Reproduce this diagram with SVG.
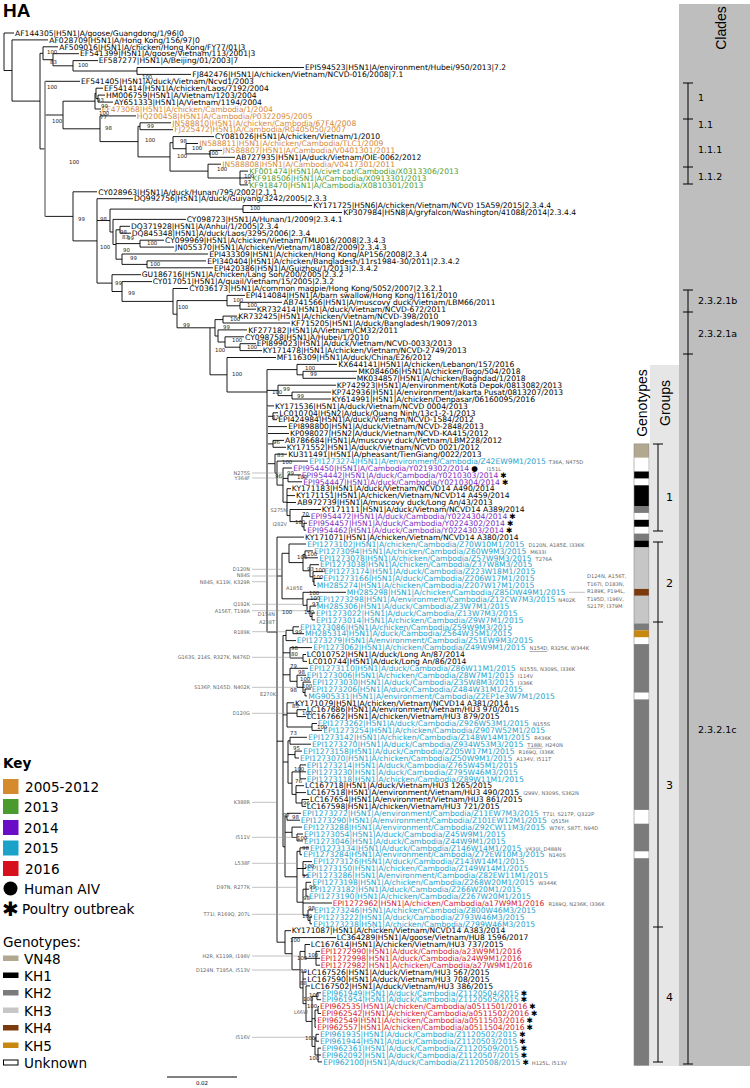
<svg xmlns="http://www.w3.org/2000/svg" width="750" height="1088" viewBox="0 0 750 1088">
<style>
text{font-family:"DejaVu Sans",Verdana,sans-serif}
.lf{font-size:7.6px;fill:#000}
.o{fill:#D4893A}.g{fill:#4E9C35}.p{fill:#7A2DBE}.c{fill:#27A3CC}.r{fill:#D2232E}
.a{fill:#000}
.mu{font-size:5.2px;fill:#666}
.bs{font-size:5.4px;fill:#222}
.ml{font-size:5px;fill:#666;text-anchor:end}
.ms{font-size:5.2px;fill:#666}
.tr{fill:none;stroke:#000;stroke-width:0.9}
.tg{fill:none;stroke:#8a8a8a;stroke-width:2}
.ld{fill:none;stroke:#999;stroke-width:0.6}
.lg{font-size:13.6px;fill:#000}
.hd{font-family:"Liberation Sans",Arial,sans-serif;font-size:14px;text-anchor:middle}
.cl{font-size:9.5px;fill:#000}
.gn{font-size:11px;fill:#000}
.u{text-decoration:underline}
</style>
<g id="title"><text x="3" y="17" style="font-family:'Liberation Sans',Arial,sans-serif;font-size:19px;font-weight:bold">HA</text></g>
<g id="connectors">
<path class="tr" d="M4 33V70.5M4 33H14M4 70.5H12M12 39.9V101.1M12 39.9H48M12 101.1H40M40 53.3V148.9M40 53.3H43M40 148.9H45M43 46.8V59.7M43 46.8H58M43 59.7H53M53 53.7V65.8M53 53.7H79M53 65.8H73M73 60.6V71M73 60.6H98M73 71H137M137 67.5V74.4M137 67.5H304M137 74.4H191M45 81.3H80M45 115H63M45 216.4H73M63 101.2V128.8M63 101.2H95M63 128.8H100M95 93.4V109M95 93.4H96M95 109H101M96 88.2V98.6M96 88.2H103M96 98.6H98M98 95.1V102.1M98 95.1H105M98 102.1H113M100 115.9V141.6M100 115.9H136M100 141.6H138M138 126.3V156.9M138 126.3H140M138 156.9H170M140 122.8V129.7M140 122.8H171M140 129.7H173M170 142.7V171.1M170 142.7H173M170 171.1H208M173 136.6V148.7M173 136.6H214M173 148.7H186M186 143.5V153.9M186 143.5H198M186 153.9H210M210 150.4V157.3M210 150.4H222M210 157.3H235M208 164.2V178M208 164.2H221M208 178H240M240 171.1V184.9M240 171.1H248M240 178H251M240 184.9H248M73 191.8V240.9M73 191.8H97M73 240.9H97M97 198.7V283.1M97 198.7H133M97 220.5H110M97 283.1H112M110 209.1V232M110 209.1H243M110 232H113M243 205.6V212.5M243 205.6H312M243 212.5H342M113 219.4V244.5M113 219.4H186M113 244.5H116M116 229.8V259.2M116 229.8H120M116 243.6H140M116 259.2H122M120 226.3V233.2M120 226.3H130M120 233.2H131M140 240.2V247.1M140 240.2H164M140 247.1H174M122 254V264.4M122 254H208M122 264.4H147M147 260.9V267.8M147 260.9H206M147 267.8H213M112 274.7V291.5M112 274.7H141M112 291.5H122M122 281.6V301.4M122 281.6H152M122 301.4H173M173 288.5V314.2M173 288.5H188M173 314.2H177M177 300.6V327.8M177 300.6H227M177 327.8H210M227 295.4V305.8M227 295.4H245M227 305.8H240M240 302.3V309.2M240 302.3H282M240 309.2H256M210 327.8V374.8M210 327.8H215M210 374.8H227M215 319.6V336M215 319.6H223M215 336H218M223 316.1V323M223 316.1H237M223 323H290M218 329.9V342M218 329.9H247M218 342H225M225 336.8V347.2M225 336.8H244M225 347.2H240M240 343.7V350.6M240 343.7H256M240 350.6H262M227 357.5V392M227 357.5H276M227 392H267M267 369.6V405.9M267 369.6H297M267 390.4H278M267 405.9H274M267 416.3H273M267 426.6H287M267 433.5H289M267 443.9H273M267 463.7H275M267 632H277M297 364.4V374.8M297 364.4H337M297 374.8H303M303 371.3V378.3M303 371.3H357M303 378.3H356M278 385.2V395.6M278 385.2H336M278 395.6H292M292 392.1V399M292 392.1H331M292 399H331M273 412.8V419.7M273 412.8H278M273 419.7H277M273 440.4V447.3M273 440.4H284M273 447.3H286M275 454.2V473.1M275 454.2H287M275 473.1H277M277 461.1V485.1M277 461.1H308M277 485.1H283M283 468V502.2M283 468H292M283 478.4H288M283 502.2H287M288 474.9V481.8M288 474.9H301M288 481.8H302M287 488.7V515.6M287 488.7H291M287 495.6H295M287 502.5H296M287 515.6H290M290 509.5V521.6M290 509.5H321M290 521.6H302M302 516.4V526.8M302 516.4H310M302 526.8H304M304 523.3V530.2M304 523.3H307M304 530.2H306M277 537.1V942.2M277 537.1H304M277 576H282M277 741.2H283M277 942.2H285"/>
<path class="tr" d="M282 553.3V598.8M282 553.3H289M282 598.8H303M289 544V562.6M289 544H306M289 562.6H303M303 554.4V570.8M303 554.4H305M303 570.8H310M305 550.9V557.8M305 550.9H313M305 557.8H318M310 564.7V576.8M310 564.7H319M310 576.8H313M313 571.6V582M313 571.6H323M313 582H314M314 578.5V585.4M314 578.5H322M314 585.4H316M303 592.3V605.3M303 592.3H346M303 605.3H307M307 599.2V611.3M307 599.2H317M307 611.3H310M310 606.1V616.5M310 606.1H316M310 616.5H312M312 613V619.9M312 613H315M312 619.9H315M283 635.5V846.8M283 635.5H286M283 652.8H290M283 674.8H290M283 714.9H287M283 762H288M283 846.8H285M286 630.3V640.6M286 630.3H293M286 640.6H296M293 626.8V633.7M293 626.8H299M293 633.7H304M290 647.6V658M290 647.6H312M290 658H303M303 654.5V661.4M303 654.5H306M303 661.4H307M290 668.3V681.3M290 668.3H308M290 681.3H297M297 675.2V687.3M297 675.2H306M297 687.3H303M303 682.1V692.5M303 682.1H311M303 692.5H305M305 689V695.9M305 689H311M305 695.9H307M287 702.8V727M287 702.8H294M287 713.2H297M287 727H312M297 709.7V716.6M297 709.7H306M297 716.6H306M312 723.5V730.4M312 723.5H317M312 730.4H322M288 740.8V783.2M288 740.8H290M288 754.6H295M288 783.2H292M290 737.3V744.2M290 737.3H307M290 744.2H311M295 751.1V758M295 751.1H302M295 758H299M292 771.9V794.4M292 771.9H300M292 794.4H296M300 764.9V778.8M300 764.9H306M300 771.8H306M300 778.8H306M296 785.7V803M296 785.7H304M296 792.6H306M296 803H302M302 799.5V806.4M302 799.5H309M302 806.4H306M285 816.8V876.8M285 816.8H287M285 832.3H292M285 876.8H297M287 813.3V820.2M287 813.3H301M287 820.2H300M292 827.1V837.5M292 827.1H302M292 837.5H297M297 834V840.9M297 834H303M297 840.9H303M297 851.3V902.2M297 851.3H300M297 868.5H303M297 902.2H303M300 847.8V854.7M300 847.8H309M300 854.7H302M303 861.6V875.4M303 861.6H312M303 868.5H306M303 875.4H306M303 889.2V915.2M303 889.2H306M303 903H332M303 915.2H308M306 882.3V896.1M306 882.3H311M306 889.2H309M306 896.1H308M308 910V920.4M308 910H313M308 920.4H310M310 916.9V923.8M310 916.9H312M310 923.8H312M285 930.7V953.7M285 930.7H291M285 953.7H292M292 937.6V969.7M292 937.6H336M292 969.7H300M300 951.4V987.9M300 951.4H305M300 987.9H303M305 944.5V958.3M305 944.5H310M305 958.3H316M316 951.4V965.2M316 951.4H320M316 958.3H320M316 965.2H320M303 972.1V1003.7M303 972.1H306M303 979H306M303 1003.7H306M306 985.9V1021.4M306 985.9H310M306 1021.4H312M312 996.3V1046.4M312 996.3H317M312 1018.7H315M312 1046.4H315M317 992.8V999.7M317 992.8H321M317 999.7H321M315 1010.1V1027.3M315 1010.1H318M315 1020.4H316M315 1027.3H316M318 1006.6V1013.5M318 1006.6H319M318 1013.5H321M315 1037.8V1055M315 1037.8H316M315 1055H318M316 1034.3V1041.2M316 1034.3H319M316 1041.2H319M318 1048.1V1061.9M318 1048.1H321M318 1055H321M318 1061.9H322"/>
<path class="tg" d="M267 405.9V632"/>
<path fill="none" stroke="#8a8a8a" stroke-width="1.6" d="M45 81.3V216.4"/>
<path class="ld" d="M252 473H282M252 478H282M252 569.3H282M252 576H282M252 581.7H267M252 604.3H303M252 610.7H307M252 631.7H286M252 657.3H303M252 687.3H297M252 713.3H287M252 802.3H277M252 837.3H297M252 863.3H297M252 887.3H297M252 914.3H308M252 956H300M252 970H303M252 1037.3H315M569 592.3H585"/>
</g>
<g id="leaves" class="lf">
<g id="n1"><text x="15" y="35.7">AF144305|H5N1|A/goose/Guangdong/1/96|0</text></g>
<g id="n2"><text x="49.3" y="42.6">AF028709|H5N1|A/Hong Kong/156/97|0</text></g>
<g id="n3"><text x="59.3" y="49.5">AF509016|H5N1|A/chicken/Hong Kong/FY77/01|3</text></g>
<g id="n4"><text x="80" y="56.4">EF541399|H5N1|A/goose/Vietnam/113/2001|3</text></g>
<g id="n5"><text x="98.7" y="63.3">EF587277|H5N1|A/Beijing/01/2003|7</text></g>
<g id="n6"><text x="305" y="70.2">EPI594523|H5N1|A/environment/Hubei/950/2013|7.2</text></g>
<g id="n7"><text x="192.3" y="77.1">FJ842476|H5N1|A/chicken/Vietnam/NCVD-016/2008|7.1</text></g>
<g id="n8"><text x="81" y="84">EF541405|H5N1|A/duck/Vietnam/Ncvd1/2003</text></g>
<g id="n9"><text x="104" y="90.9">EF541414|H5N1|A/chicken/Laos/7192/2004</text></g>
<g id="n10"><text x="106" y="97.8">HM006759|H5N1|A/Vietnam/1203/2004</text></g>
<g id="n11"><text x="114.3" y="104.8">AY651333|H5N1|A/Vietnam/1194/2004</text></g>
<g id="n12"><text class="o" x="101.7" y="111.7">EF473068|H5N1|A/chicken/Cambodia/1/2004</text></g>
<g id="n13"><text class="o" x="136.7" y="118.6">HQ200458|H5N1|A/Cambodia/P0322095/2005</text></g>
<g id="n14"><text class="o" x="172.3" y="125.5">JN588810|H5N1|A/chicken/Cambodia/67F4/2008</text></g>
<g id="n15"><text class="o" x="174.3" y="132.4">FJ225472|H5N1|A/Cambodia/R0405050/2007</text></g>
<g id="n16"><text x="215" y="139.3">CY081026|H5N1|A/chicken/Vietnam/1/2010</text></g>
<g id="n17"><text class="o" x="199.3" y="146.2">JN588811|H5N1|A/chicken/Cambodia/TLC1/2009</text></g>
<g id="n18"><text class="o" x="222.7" y="153.1">JN588807|H5N1|A/Cambodia/V0401301/2011</text></g>
<g id="n19"><text x="236" y="160">AB727935|H5N1|A/duck/Vietnam/OIE-0062/2012</text></g>
<g id="n20"><text class="o" x="222.3" y="166.9">JN588808|H5N1|A/Cambodia/V0417301/2011</text></g>
<g id="n21"><text class="g" x="249.3" y="173.8">KF001474|H5N1|A/civet cat/Cambodia/X0313306/2013</text></g>
<g id="n22"><text class="g" x="252.3" y="180.7">KF918506|H5N1|A/Cambodia/X0913301/2013</text></g>
<g id="n23"><text class="g" x="249.3" y="187.6">KF918470|H5N1|A/Cambodia/X0810301/2013</text></g>
<g id="n24"><text x="98.3" y="194.5">CY028963|H5N1|A/duck/Hunan/795/2002|2.1.1</text></g>
<g id="n25"><text x="134" y="201.4">DQ992756|H5N1|A/duck/Guiyang/3242/2005|2.3.3</text></g>
<g id="n26"><text x="313.3" y="208.3">KY171725|H5N6|A/chicken/Vietnam/NCVD 15A59/2015|2.3.4.4</text></g>
<g id="n27"><text x="343.3" y="215.2">KP307984|H5N8|A/gryfalcon/Washington/41088/2014|2.3.4.4</text></g>
<g id="n28"><text x="186.7" y="222.1">CY098723|H5N1|A/Hunan/1/2009|2.3.4.1</text></g>
<g id="n29"><text x="131" y="229">DQ371928|H5N1|A/Anhui/1/2005|2.3.4</text></g>
<g id="n30"><text x="131.7" y="235.9">DQ845348|H5N1|A/duck/Laos/3295/2006|2.3.4</text></g>
<g id="n31"><text x="165" y="242.9">CY099969|H5N1|A/chicken/Vietnam/TMU016/2008|2.3.4.3</text></g>
<g id="n32"><text x="175" y="249.8">JN055370|H5N1|A/chicken/Vietnam/18082/2009|2.3.4.3</text></g>
<g id="n33"><text x="209.3" y="256.7">EPI433309|H5N1|A/chicken/Hong Kong/AP156/2008|2.3.4</text></g>
<g id="n34"><text x="207.3" y="263.6">EPI340404|H5N1|A/chicken/Bangladesh/11rs1984-30/2011|2.3.4.2</text></g>
<g id="n35"><text x="214" y="270.5">EPI420386|H5N1|A/Guizhou/1/2013|2.3.4.2</text></g>
<g id="n36"><text x="141.7" y="277.4">GU186716|H5N1|A/chicken/Lang Son/200/2005|2.3.2</text></g>
<g id="n37"><text x="152.7" y="284.3">CY017051|H5N1|A/quail/Vietnam/15/2005|2.3.2</text></g>
<g id="n38"><text x="189.3" y="291.2">CY036173|H5N1|A/common magpie/Hong Kong/5052/2007|2.3.2.1</text></g>
<g id="n39"><text x="245.7" y="298.1">EPI414084|H5N1|A/barn swallow/Hong Kong/1161/2010</text></g>
<g id="n40"><text x="283.3" y="305">AB741566|H5N1|A/muscovy duck/Vietnam/LBM66/2011</text></g>
<g id="n41"><text x="256.7" y="311.9">KR732414|H5N1|A/duck/Vietnam/NCVD-672/2011</text></g>
<g id="n42"><text x="238.3" y="318.8">KR732425|H5N1|A/chicken/Vietnam/NCVD-398/2010</text></g>
<g id="n43"><text x="291" y="325.7">KF715205|H5N1|A/duck/Bangladesh/19097/2013</text></g>
<g id="n44"><text x="248.3" y="332.6">KF277182|H5N1|A/Vietnam/CM32/2011</text></g>
<g id="n45"><text x="245" y="339.5">CY098758|H5N1|A/Hubei/1/2010</text></g>
<g id="n46"><text x="256.7" y="346.4">EPI899023|H5N1|A/duck/Vietnam/NCVD-0033/2013</text></g>
<g id="n47"><text x="262.7" y="353.3">KY171478|H5N1|A/chicken/Vietnam/NCVD-2749/2013</text></g>
<g id="n48"><text x="276.7" y="360.2">MF116309|H5N1|A/duck/China/E26/2012</text></g>
<g id="n49"><text x="338.3" y="367.1">KX644141|H5N1|A/chicken/Lebanon/157/2016</text></g>
<g id="n50"><text x="358.3" y="374">MK084606|H5N1|A/chicken/Togo/504/2018</text></g>
<g id="n51"><text x="356.7" y="381">MK034857|H5N1|A/chicken/Baghdad/1/2018</text></g>
<g id="n52"><text x="336.7" y="387.9">KP742923|H5N1|A/environment/Kota Depok/0813082/2013</text></g>
<g id="n53"><text x="331.7" y="394.8">KP742936|H5N1|A/environment/Jakarta Pusat/0813207/2013</text></g>
<g id="n54"><text x="331.7" y="401.7">KY614991|H5N1|A/chicken/Denpasar/06160095/2016</text></g>
<g id="n55"><text x="275" y="408.6">KY171536|H5N1|A/duck/Vietnam/NCVD 0004/2013</text></g>
<g id="n56"><text x="279.3" y="415.5">LC010704|H5N2|A/duck/Quang Ninh/13c1-2-1/2013</text></g>
<g id="n57"><text x="278.3" y="422.4">EPI424984|H5N1|A/duck/Vietnam/NCVD-1584/2012</text></g>
<g id="n58"><text x="288.3" y="429.3">EPI898800|H5N1|A/duck/Vietnam/NCVD-2848/2013</text></g>
<g id="n59"><text x="290" y="436.2">KP098027|H5N2|A/duck/Vietnam/NCVD-KA415/2012</text></g>
<g id="n60"><text x="285" y="443.1">AB786684|H5N1|A/muscovy duck/Vietnam/LBM228/2012</text></g>
<g id="n61"><text x="286.7" y="450">KY171552|H5N1|A/duck/Vietnam/NCVD 0021/2012</text></g>
<g id="n62"><text x="288.3" y="456.9">KU311491|H5N1|A/pheasant/TienGiang/0022/2013</text></g>
<g id="n63"><text class="c" x="309.3" y="463.8">EPI1273274|H5N1|A/environment/Cambodia/Z42EW9M1/2015<tspan class="mu" dx="3">T36A, N475D</tspan></text></g>
<g id="n64"><text class="p" x="293.3" y="470.7">EPI954450|H5N1|A/Cambodia/Y0219302/2014<tspan class="a" dx="2">●</tspan><tspan class="mu" dx="9">I151L</tspan></text></g>
<g id="n65"><text class="p" x="301.7" y="477.6">EPI954442|H5N1|A/duck/Cambodia/Y0210303/2014<tspan class="a" dx="2">✱</tspan></text></g>
<g id="n66"><text class="p" x="303.3" y="484.5">EPI954447|H5N1|A/duck/Cambodia/Y0210304/2014<tspan class="a" dx="2">✱</tspan></text></g>
<g id="n67"><text x="291.7" y="491.4">KY171183|H5N1|A/duck/Vietnam/NCVD14 A490/2014</text></g>
<g id="n68"><text x="296" y="498.3">KY171151|H5N1|A/chicken/Vietnam/NCVD14 A459/2014</text></g>
<g id="n69"><text x="297.3" y="505.2">AB972739|H5N1|A/muscovy duck/Long An/43/2013</text></g>
<g id="n70"><text x="321.7" y="512.2">KY171111|H5N1|A/duck/Vietnam/NCVD14 A389/2014</text></g>
<g id="n71"><text class="p" x="310.7" y="519.1">EPI954472|H5N1|A/duck/Cambodia/Y0224304/2014<tspan class="a" dx="2">✱</tspan></text></g>
<g id="n72"><text class="p" x="308.3" y="526">EPI954457|H5N1|A/duck/Cambodia/Y0224302/2014<tspan class="a" dx="2">✱</tspan></text></g>
<g id="n73"><text class="p" x="307.3" y="532.9">EPI954462|H5N1|A/duck/Cambodia/Y0224303/2014<tspan class="a" dx="2">✱</tspan></text></g>
<g id="n74"><text x="305" y="539.8">KY171071|H5N1|A/chicken/Vietnam/NCVD14 A380/2014</text></g>
<g id="n75"><text class="c" x="307.3" y="546.7">EPI1273102|H5N1|A/chicken/Cambodia/Z70W10M1/2015<tspan class="mu" dx="4">D120N, A185E, I336K</tspan></text></g>
<g id="n76"><text class="c" x="314" y="553.6">EPI1273094|H5N1|A/chicken/Cambodia/Z60W9M3/2015<tspan class="mu" dx="4">M633I</tspan></text></g>
<g id="n77"><text class="c" x="319.3" y="560.5">EPI1273078|H5N1|A/chicken/Cambodia/Z57W9M3/2015<tspan class="mu" dx="4">T276A</tspan></text></g>
<g id="n78"><text class="c" x="320" y="567.4">EPI1273038|H5N1|A/chicken/Cambodia/Z37W8M3/2015</text></g>
<g id="n79"><text class="c" x="324" y="574.3">EPI1273174|H5N1|A/duck/Cambodia/Z223W18M1/2015</text></g>
<g id="n80"><text class="c" x="323.3" y="581.2">EPI1273166|H5N1|A/duck/Cambodia/Z206W17M1/2015</text></g>
<g id="n81"><text class="c" x="316.7" y="588.1">MH285274|H5N1|A/chicken/Cambodia/Z207W17M1/2015</text></g>
<g id="n82"><text class="c" x="346.7" y="595">MH285298|H5N1|A/chicken/Cambodia/Z85DW49M1/2015</text></g>
<g id="n83"><text class="c" x="318.3" y="601.9">EPI1273298|H5N1|A/environment/Cambodia/Z12CW7M3/2015<tspan class="mu" dx="3">N402K</tspan></text></g>
<g id="n84"><text class="c" x="316.7" y="608.8">MH285306|H5N1|A/duck/Cambodia/Z3W7M1/2015</text></g>
<g id="n85"><text class="c" x="316" y="615.7">EPI1273022|H5N1|A/duck/Cambodia/Z13W7M3/2015</text></g>
<g id="n86"><text class="c" x="316" y="622.6">EPI1273014|H5N1|A/chicken/Cambodia/Z9W7M1/2015</text></g>
<g id="n87"><text class="c" x="300" y="629.5">EPI1273086|H5N1|A/chicken/Cambodia/Z59W9M3/2015</text></g>
<g id="n88"><text class="c" x="305" y="636.4">MH285314|H5N1|A/duck/Cambodia/Z564W35M1/2015</text></g>
<g id="n89"><text class="c" x="296.7" y="643.3">EPI1273279|H5N1|A/environment/Cambodia/Z51EW9M3/2015</text></g>
<g id="n90"><text class="c" x="313.3" y="650.3">EPI1273062|H5N1|A/chicken/Cambodia/Z49W9M1/2015<tspan class="mu" dx="4"><tspan class="u">N154D</tspan>, R325K, W344K</tspan></text></g>
<g id="n91"><text x="306.7" y="657.2">LC010752|H5N1|A/duck/Long An/87/2014</text></g>
<g id="n92"><text x="308.3" y="664.1">LC010744|H5N1|A/duck/Long An/86/2014</text></g>
<g id="n93"><text class="c" x="309.3" y="671">EPI1273110|H5N1|A/duck/Cambodia/Z86W11M1/2015<tspan class="mu" dx="4">N155S, N309S, I336K</tspan></text></g>
<g id="n94"><text class="c" x="306.7" y="677.9">EPI1273006|H5N1|A/chicken/Cambodia/Z8W7M1/2015<tspan class="mu" dx="4">I114V</tspan></text></g>
<g id="n95"><text class="c" x="312.3" y="684.8">EPI1273030|H5N1|A/duck/Cambodia/Z35W8M3/2015<tspan class="mu" dx="4">I336K</tspan></text></g>
<g id="n96"><text class="c" x="311.7" y="691.7">EPI1273206|H5N1|A/duck/Cambodia/Z484W31M1/2015</text></g>
<g id="n97"><text class="c" x="308.3" y="698.6">MG905331|H5N1|A/environment/Cambodia/Z2EP1e3W7M1/2015</text></g>
<g id="n98"><text x="295" y="705.5">KY171079|H5N1|A/chicken/Vietnam/NCVD14 A381/2014</text></g>
<g id="n99"><text x="306.7" y="712.4">LC167686|H5N1|A/environment/Vietnam/HU3 970/2015</text></g>
<g id="n100"><text x="306.7" y="719.3">LC167662|H5N1|A/chicken/Vietnam/HU3 879/2015</text></g>
<g id="n101"><text class="c" x="317.7" y="726.2">EPI1273262|H5N1|A/duck/Cambodia/Z926W53M1/2015<tspan class="mu" dx="4">N155S</tspan></text></g>
<g id="n102"><text class="c" x="323.3" y="733.1">EPI1273254|H5N1|A/chicken/Cambodia/Z907W52M1/2015</text></g>
<g id="n103"><text class="c" x="308.3" y="740">EPI1273142|H5N1|A/chicken/Cambodia/Z148W14M1/2015<tspan class="mu" dx="4">R436K</tspan></text></g>
<g id="n104"><text class="c" x="312" y="746.9">EPI1273270|H5N1|A/duck/Cambodia/Z934W53M3/2015<tspan class="mu" dx="4"><tspan class="u">T188I</tspan>, H240N</tspan></text></g>
<g id="n105"><text class="c" x="303.3" y="753.8">EPI1273158|H5N1|A/duck/Cambodia/Z205W17M1/2015<tspan class="mu" dx="4">R169Q, I336K</tspan></text></g>
<g id="n106"><text class="c" x="300" y="760.7">EPI1273070|H5N1|A/chicken/Cambodia/Z50W9M1/2015<tspan class="mu" dx="4">A134V, I511T</tspan></text></g>
<g id="n107"><text class="c" x="306.7" y="767.6">EPI1273214|H5N1|A/duck/Cambodia/Z765W45M1/2015</text></g>
<g id="n108"><text class="c" x="306.7" y="774.5">EPI1273230|H5N1|A/duck/Cambodia/Z795W46M3/2015</text></g>
<g id="n109"><text class="c" x="306.7" y="781.5">EPI1273118|H5N1|A/chicken/Cambodia/Z89W11M1/2015</text></g>
<g id="n110"><text x="305" y="788.4">LC167718|H5N1|A/duck/Vietnam/HU3 1265/2015</text></g>
<g id="n111"><text x="306.7" y="795.3">LC167518|H5N1|A/environment/Vietnam/HU3 490/2015<tspan class="mu" dx="4">I299V, N309S, S362N</tspan></text></g>
<g id="n112"><text x="310" y="802.2">LC167654|H5N1|A/environment/Vietnam/HU3 861/2015</text></g>
<g id="n113"><text x="306.7" y="809.1">LC167598|H5N1|A/chicken/Vietnam/HU3 721/2015</text></g>
<g id="n114"><text class="c" x="302.3" y="816">EPI1273272|H5N1|A/environment/Cambodia/Z11EW7M3/2015<tspan class="mu" dx="4">T71I, S217P, Q322P</tspan></text></g>
<g id="n115"><text class="c" x="300.7" y="822.9">EPI1273290|H5N1|A/environment/Cambodia/Z101EW12M1/2015<tspan class="mu" dx="4">Q515H</tspan></text></g>
<g id="n116"><text class="c" x="303.3" y="829.8">EPI1273288|H5N1|A/environment/Cambodia/Z92CW11M3/2015<tspan class="mu" dx="4">W76Y, S87T, N94D</tspan></text></g>
<g id="n117"><text class="c" x="304" y="836.7">EPI1273054|H5N1|A/duck/Cambodia/Z45W9M1/2015</text></g>
<g id="n118"><text class="c" x="304" y="843.6">EPI1273046|H5N1|A/duck/Cambodia/Z44W9M1/2015</text></g>
<g id="n119"><text class="c" x="310" y="850.5">EPI1273134|H5N1|A/duck/Cambodia/Z146W14M1/2015<tspan class="mu" dx="4">V430I, D488N</tspan></text></g>
<g id="n120"><text class="c" x="303.3" y="857.4">EPI1273284|H5N1|A/environment/Cambodia/Z72EW10M3/2015<tspan class="mu" dx="4">N140S</tspan></text></g>
<g id="n121"><text class="c" x="313.3" y="864.3">EPI1273126|H5N1|A/duck/Cambodia/Z143W14M1/2015</text></g>
<g id="n122"><text class="c" x="306.7" y="871.2">EPI1273150|H5N1|A/chicken/Cambodia/Z149W14M1/2015</text></g>
<g id="n123"><text class="c" x="306.7" y="878.1">EPI1273286|H5N1|A/environment/Cambodia/Z82EW11M1/2015</text></g>
<g id="n124"><text class="c" x="312.3" y="885">EPI1273198|H5N1|A/chicken/Cambodia/Z268W20M1/2015<tspan class="mu" dx="4">W344K</tspan></text></g>
<g id="n125"><text class="c" x="310" y="891.9">EPI1273182|H5N1|A/duck/Cambodia/Z266W20M1/2015</text></g>
<g id="n126"><text class="c" x="309" y="898.8">EPI1273190|H5N1|A/chicken/Cambodia/Z267W20M1/2015</text></g>
<g id="n127"><text class="r" x="332.7" y="905.7">EPI1272962|H5N1|A/chicken/Cambodia/a17W9M1/2016<tspan class="mu" dx="4">R169Q, N236K, I336K</tspan></text></g>
<g id="n128"><text class="c" x="314" y="912.7">EPI1273246|H5N1|A/chicken/Cambodia/Z800W46M3/2015</text></g>
<g id="n129"><text class="c" x="313.3" y="919.6">EPI1273222|H5N1|A/duck/Cambodia/Z793W46M3/2015</text></g>
<g id="n130"><text class="c" x="313.3" y="926.5">EPI1273238|H5N1|A/chicken/Cambodia/Z799W46M3/2015</text></g>
<g id="n131"><text x="291.7" y="933.4">KY171087|H5N1|A/chicken/Vietnam/NCVD14 A383/2014</text></g>
<g id="n132"><text x="336.7" y="940.3">LC364289|H5N1|A/goose/Vietnam/HU8 1596/2017</text></g>
<g id="n133"><text x="310.7" y="947.2">LC167614|H5N1|A/chicken/Vietnam/HU3 737/2015</text></g>
<g id="n134"><text class="r" x="320.7" y="954.1">EPI1272990|H5N1|A/duck/Cambodia/a23W9M1/2016</text></g>
<g id="n135"><text class="r" x="320.7" y="961">EPI1272998|H5N1|A/duck/Cambodia/a24W9M1/2016</text></g>
<g id="n136"><text class="r" x="320.7" y="967.9">EPI1272982|H5N1|A/chicken/Cambodia/a27W9M1/2016</text></g>
<g id="n137"><text x="307.3" y="974.8">LC167526|H5N1|A/duck/Vietnam/HU3 567/2015</text></g>
<g id="n138"><text x="307.3" y="981.7">LC167590|H5N1|A/duck/Vietnam/HU3 708/2015</text></g>
<g id="n139"><text x="310.7" y="988.6">LC167502|H5N1|A/duck/Vietnam/HU3 386/2015</text></g>
<g id="n140"><text class="c" x="321.7" y="995.5">EPI961949|H5N1|A/duck/Cambodia/Z1120504/2015<tspan class="a" dx="2">✱</tspan></text></g>
<g id="n141"><text class="c" x="321.7" y="1002.4">EPI961954|H5N1|A/duck/Cambodia/Z1120505/2015<tspan class="a" dx="2">✱</tspan></text></g>
<g id="n142"><text class="r" x="320" y="1009.3">EPI962535|H5N1|A/chicken/Cambodia/a0511501/2016<tspan class="a" dx="2">✱</tspan></text></g>
<g id="n143"><text class="r" x="321.7" y="1016.2">EPI962542|H5N1|A/chicken/Cambodia/a0511502/2016<tspan class="a" dx="2">✱</tspan></text></g>
<g id="n144"><text class="r" x="317.3" y="1023.1">EPI962549|H5N1|A/chicken/Cambodia/a0511503/2016<tspan class="a" dx="2">✱</tspan></text></g>
<g id="n145"><text class="r" x="317.3" y="1030">EPI962557|H5N1|A/chicken/Cambodia/a0511504/2016<tspan class="a" dx="2">✱</tspan></text></g>
<g id="n146"><text class="c" x="320" y="1037">EPI961935|H5N1|A/duck/Cambodia/Z1120502/2015<tspan class="a" dx="2">✱</tspan></text></g>
<g id="n147"><text class="c" x="320" y="1043.9">EPI961944|H5N1|A/duck/Cambodia/Z1120503/2015<tspan class="a" dx="2">✱</tspan></text></g>
<g id="n148"><text class="c" x="321.7" y="1050.8">EPI962361|H5N1|A/duck/Cambodia/Z1120509/2015<tspan class="a" dx="2">✱</tspan></text></g>
<g id="n149"><text class="c" x="321.7" y="1057.7">EPI962092|H5N1|A/duck/Cambodia/Z1120507/2015<tspan class="a" dx="2">✱</tspan></text></g>
<g id="n150"><text class="c" x="323.3" y="1064.6">EPI962100|H5N1|A/duck/Cambodia/Z1120508/2015<tspan class="a" dx="2">✱</tspan><tspan class="mu" dx="3">H125L, I513V</tspan></text></g>
</g>
<g id="mutation-block" class="ms">
<text x="587" y="578.3">D124N, A156T,</text>
<text x="587" y="585.8">T167I, D183N,</text>
<text x="587" y="593.3">R189K, P194L,</text>
<text x="587" y="600.8">T195D, I196V,</text>
<text x="587" y="608.3">S217P, I379M</text>
</g>
<g id="branch-mutations">
<text class="ml" x="250" y="474.6">N275S</text>
<text class="ml" x="250" y="480.2">Y364F</text>
<text class="ml" x="250" y="570.9">D120N</text>
<text class="ml" x="250" y="577.3">N84S</text>
<text class="ml" x="250" y="583.7">N84S, K119I, K329R</text>
<text class="ml" x="250" y="606.1">Q192K</text>
<text class="ml" x="250" y="612.5">A156T, T198A</text>
<text class="ml" x="250" y="633.5">R189K</text>
<text class="ml" x="250" y="659.1">G163S, 214S, R327K, N476D</text>
<text class="ml" x="250" y="689.1">S136P, N165D, N402K</text>
<text class="ml" x="250" y="715.1">D120G</text>
<text class="ml" x="250" y="804.1">K388R</text>
<text class="ml" x="250" y="839.1">I511V</text>
<text class="ml" x="250" y="865.1">L538F</text>
<text class="ml" x="250" y="889.1">D97N, R277K</text>
<text class="ml" x="250" y="916.1">T71I, R169Q, 207L</text>
<text class="ml" x="250" y="957.8">H2R, K119R, I198V</text>
<text class="ml" x="250" y="971.8">D124N, T195A, I513V</text>
<text class="ml" x="250" y="1039.1">I516V</text>
<text class="ml" x="287" y="512.3">S275N</text>
<text class="ml" x="287" y="525.8">I282V</text>
<text class="ml" x="275" y="616.1">D154N</text>
<text class="ml" x="275" y="623.5">A238T</text>
<text class="ml" x="276" y="695.8">E270K</text>
<text class="ml" x="308" y="1013.5">L66W</text>
<text class="ms" x="286" y="589.8">A185E</text>
</g>
<g id="support" class="bs">
<text x="47" y="54">100</text><text x="50" y="64">83</text><text x="78" y="67">100</text><text x="142" y="78.5">100</text><text x="47" y="89">100</text>
<text x="97" y="102">93</text><text x="101" y="108">99</text><text x="99" y="115">100</text><text x="100" y="119">77</text><text x="52" y="123">100</text>
<text x="69" y="164">100</text><text x="105" y="130">98</text><text x="147" y="128">99</text><text x="145" y="142">100</text><text x="180" y="143">98</text>
<text x="192" y="150">100</text><text x="208" y="155">100</text><text x="177" y="158">100</text><text x="217" y="171">100</text><text x="244" y="178">100</text><text x="244" y="184">97</text>
<text x="78" y="221">99</text><text x="100" y="221">98</text><text x="250" y="210">100</text><text x="120" y="234">98</text><text x="127" y="240">99</text>
<text x="100" y="249">100</text><text x="122" y="239">83</text><text x="147" y="245">100</text><text x="123" y="252">90</text><text x="130" y="260">99</text><text x="150" y="266">100</text>
<text x="115" y="285">99</text><text x="128" y="295">99</text><text x="178" y="309">100</text><text x="233" y="302">100</text><text x="247" y="307">100</text>
<text x="230" y="321">100</text><text x="183" y="327">99</text><text x="223" y="329">99</text><text x="232" y="342">100</text><text x="247" y="349">100</text><text x="215" y="352">100</text>
<text x="232" y="376">100</text><text x="305" y="370">100</text><text x="310" y="376">99</text><text x="272" y="394">100</text><text x="283" y="391">99</text><text x="297" y="398">99</text>
<text x="272" y="419">83</text><text x="273" y="444">96</text><text x="277" y="457">83</text><text x="282" y="464">100</text><text x="275" y="478">96</text><text x="287" y="475">99</text><text x="297" y="479">100</text>
<text x="302" y="516">70</text><text x="295" y="524">100</text><text x="297" y="559">100</text><text x="307" y="556">100</text><text x="307" y="571">93</text><text x="315" y="572">100</text><text x="313" y="579">100</text>
<text x="309" y="595">100</text><text x="310" y="600">100</text><text x="312" y="606">97</text><text x="304" y="614">100</text><text x="282" y="614">100</text>
<text x="295" y="634">99</text><text x="291" y="650">98</text><text x="291" y="656">80</text><text x="290" y="668">79</text><text x="298" y="674">98</text><text x="300" y="681">100</text><text x="290" y="692">98</text><text x="302" y="688">100</text>
<text x="292" y="708">83</text><text x="302" y="715">100</text><text x="317" y="729">100</text><text x="290" y="735">73</text><text x="293" y="750">95</text><text x="294" y="771">100</text><text x="295" y="783">76</text><text x="303" y="805">96</text>
<text x="283" y="817">97</text><text x="292" y="819">98</text><text x="297" y="840">100</text><text x="302" y="850">98</text><text x="304" y="868">100</text><text x="302" y="878">95</text><text x="309" y="889">99</text><text x="303" y="900">98</text><text x="308" y="910">98</text><text x="302" y="918">100</text>
<text x="290" y="942">100</text><text x="297" y="960">100</text><text x="308" y="957">100</text><text x="300" y="973">99</text><text x="300" y="985">88</text><text x="309" y="997">100</text><text x="303" y="1001">100</text><text x="307" y="1008">100</text><text x="305" y="1040">100</text><text x="309" y="1060">100</text>
</g>
<g id="panel">
<rect x="679" y="4" width="71" height="1062" fill="#BEBEBE"/>
<rect x="650" y="365" width="29" height="701" fill="#E6E6E6"/>
<text class="hd" transform="translate(726,28) rotate(-90)">Clades</text>
<text class="hd" transform="translate(670,403) rotate(-90)">Groups</text>
<text class="hd" transform="translate(647,403) rotate(-90)">Genotypes</text>
<path d="M688 83V184M683 83H693M683 119H693M683 167H693M683 184H693M688 290V1064M683 290H693M683 312H693M683 354H693M683 1064H693" stroke="#000" stroke-width="1" fill="none"/>
<text class="cl" x="698" y="100.5">1</text>
<text class="cl" x="698" y="127.5">1.1</text>
<text class="cl" x="698" y="152.5">1.1.1</text>
<text class="cl" x="698" y="179.5">1.1.2</text>
<text class="cl" x="698" y="303.5">2.3.2.1b</text>
<text class="cl" x="698" y="336.5">2.3.2.1a</text>
<text class="cl" x="698" y="732.5">2.3.2.1c</text>
<path d="M658 444V531M653 444H663M653 531H663M658 542V1062M653 542H663M653 622H663M653 927H663M653 1062H663" stroke="#000" stroke-width="1" fill="none"/>
<text class="gn" x="666" y="501">1</text>
<text class="gn" x="666" y="587">2</text>
<text class="gn" x="666" y="789">3</text>
<text class="gn" x="666" y="1001">4</text>
<g id="genotype-bar">
<rect x="634" y="443.9" width="15" height="621.5" fill="#fff"/>
<rect x="634" y="443.9" width="15" height="13.7" fill="#B2A88F"/>
<rect x="634" y="471.5" width="15" height="6.9" fill="#000"/>
<rect x="634" y="485.3" width="15" height="20.7" fill="#000"/>
<rect x="634" y="506" width="15" height="6.9" fill="#7B7B7B"/>
<rect x="634" y="519.8" width="15" height="6.9" fill="#000"/>
<rect x="634" y="533.6" width="15" height="6.9" fill="#7B7B7B"/>
<rect x="634" y="540.5" width="15" height="6.9" fill="#000"/>
<rect x="634" y="547.4" width="15" height="41.5" fill="#C6C6C6"/>
<rect x="634" y="588.9" width="15" height="6.9" fill="#7B3A0C"/>
<rect x="634" y="595.8" width="15" height="27.6" fill="#C6C6C6"/>
<rect x="634" y="623.4" width="15" height="6.9" fill="#7B7B7B"/>
<rect x="634" y="630.3" width="15" height="6.9" fill="#C8870E"/>
<rect x="634" y="644.1" width="15" height="48.4" fill="#7B7B7B"/>
<rect x="634" y="699.4" width="15" height="110.5" fill="#7B7B7B"/>
<rect x="634" y="823.7" width="15" height="27.6" fill="#7B7B7B"/>
<rect x="634" y="858.2" width="15" height="207.2" fill="#7B7B7B"/>
<rect x="634" y="443.9" width="15" height="621.5" fill="none" stroke="#8a8a8a" stroke-width="0.6"/>
</g>
</g>
<g id="legend">
<text x="3" y="768" class="lg" font-weight="bold">Key</text>
<rect x="3" y="779" width="15.5" height="15" fill="#D68A2E"/><text x="25" y="791.5" class="lg">2005-2012</text>
<rect x="3" y="799" width="15.5" height="15" fill="#4B9A2D"/><text x="24" y="811.5" class="lg">2013</text>
<rect x="3" y="820" width="15.5" height="15" fill="#6A0DC6"/><text x="24" y="832.5" class="lg">2014</text>
<rect x="3" y="840.5" width="15.5" height="15" fill="#1BA2C9"/><text x="24" y="853" class="lg">2015</text>
<rect x="3" y="861" width="15.5" height="15" fill="#D7111C"/><text x="25" y="873.5" class="lg">2016</text>
<circle cx="10.5" cy="888.5" r="7" fill="#000"/><text x="24" y="893.5" class="lg">Human AIV</text>
<text x="10.5" y="915.5" text-anchor="middle" style="font-size:20px;fill:#000">✱</text><text x="22" y="913.5" class="lg">Poultry outbreak</text>
<text x="3" y="946.5" class="lg">Genotypes:</text>
<rect x="3" y="955.5" width="15.5" height="5.5" fill="#B2A88F"/><text x="24" y="963.5" class="lg">VN48</text>
<rect x="3" y="972.5" width="15.5" height="5.5" fill="#000"/><text x="24" y="980.5" class="lg">KH1</text>
<rect x="3" y="990" width="15.5" height="5.5" fill="#7B7B7B"/><text x="24" y="998" class="lg">KH2</text>
<rect x="3" y="1007.5" width="15.5" height="5.5" fill="#C6C6C6"/><text x="24" y="1015.5" class="lg">KH3</text>
<rect x="3" y="1025" width="15.5" height="5.5" fill="#7B3A0C"/><text x="24" y="1033" class="lg">KH4</text>
<rect x="3" y="1042.5" width="15.5" height="5.5" fill="#C8870E"/><text x="24" y="1050.5" class="lg">KH5</text>
<rect x="3.5" y="1060" width="14.5" height="5" fill="#fff" stroke="#000" stroke-width="1"/><text x="24" y="1068" class="lg">Unknown</text>
</g>
<g id="scale">
<path d="M167 1077H237" stroke="#000" stroke-width="1"/>
<text x="202" y="1085" text-anchor="middle" style="font-size:5.5px">0.02</text>
</g>
</svg>
